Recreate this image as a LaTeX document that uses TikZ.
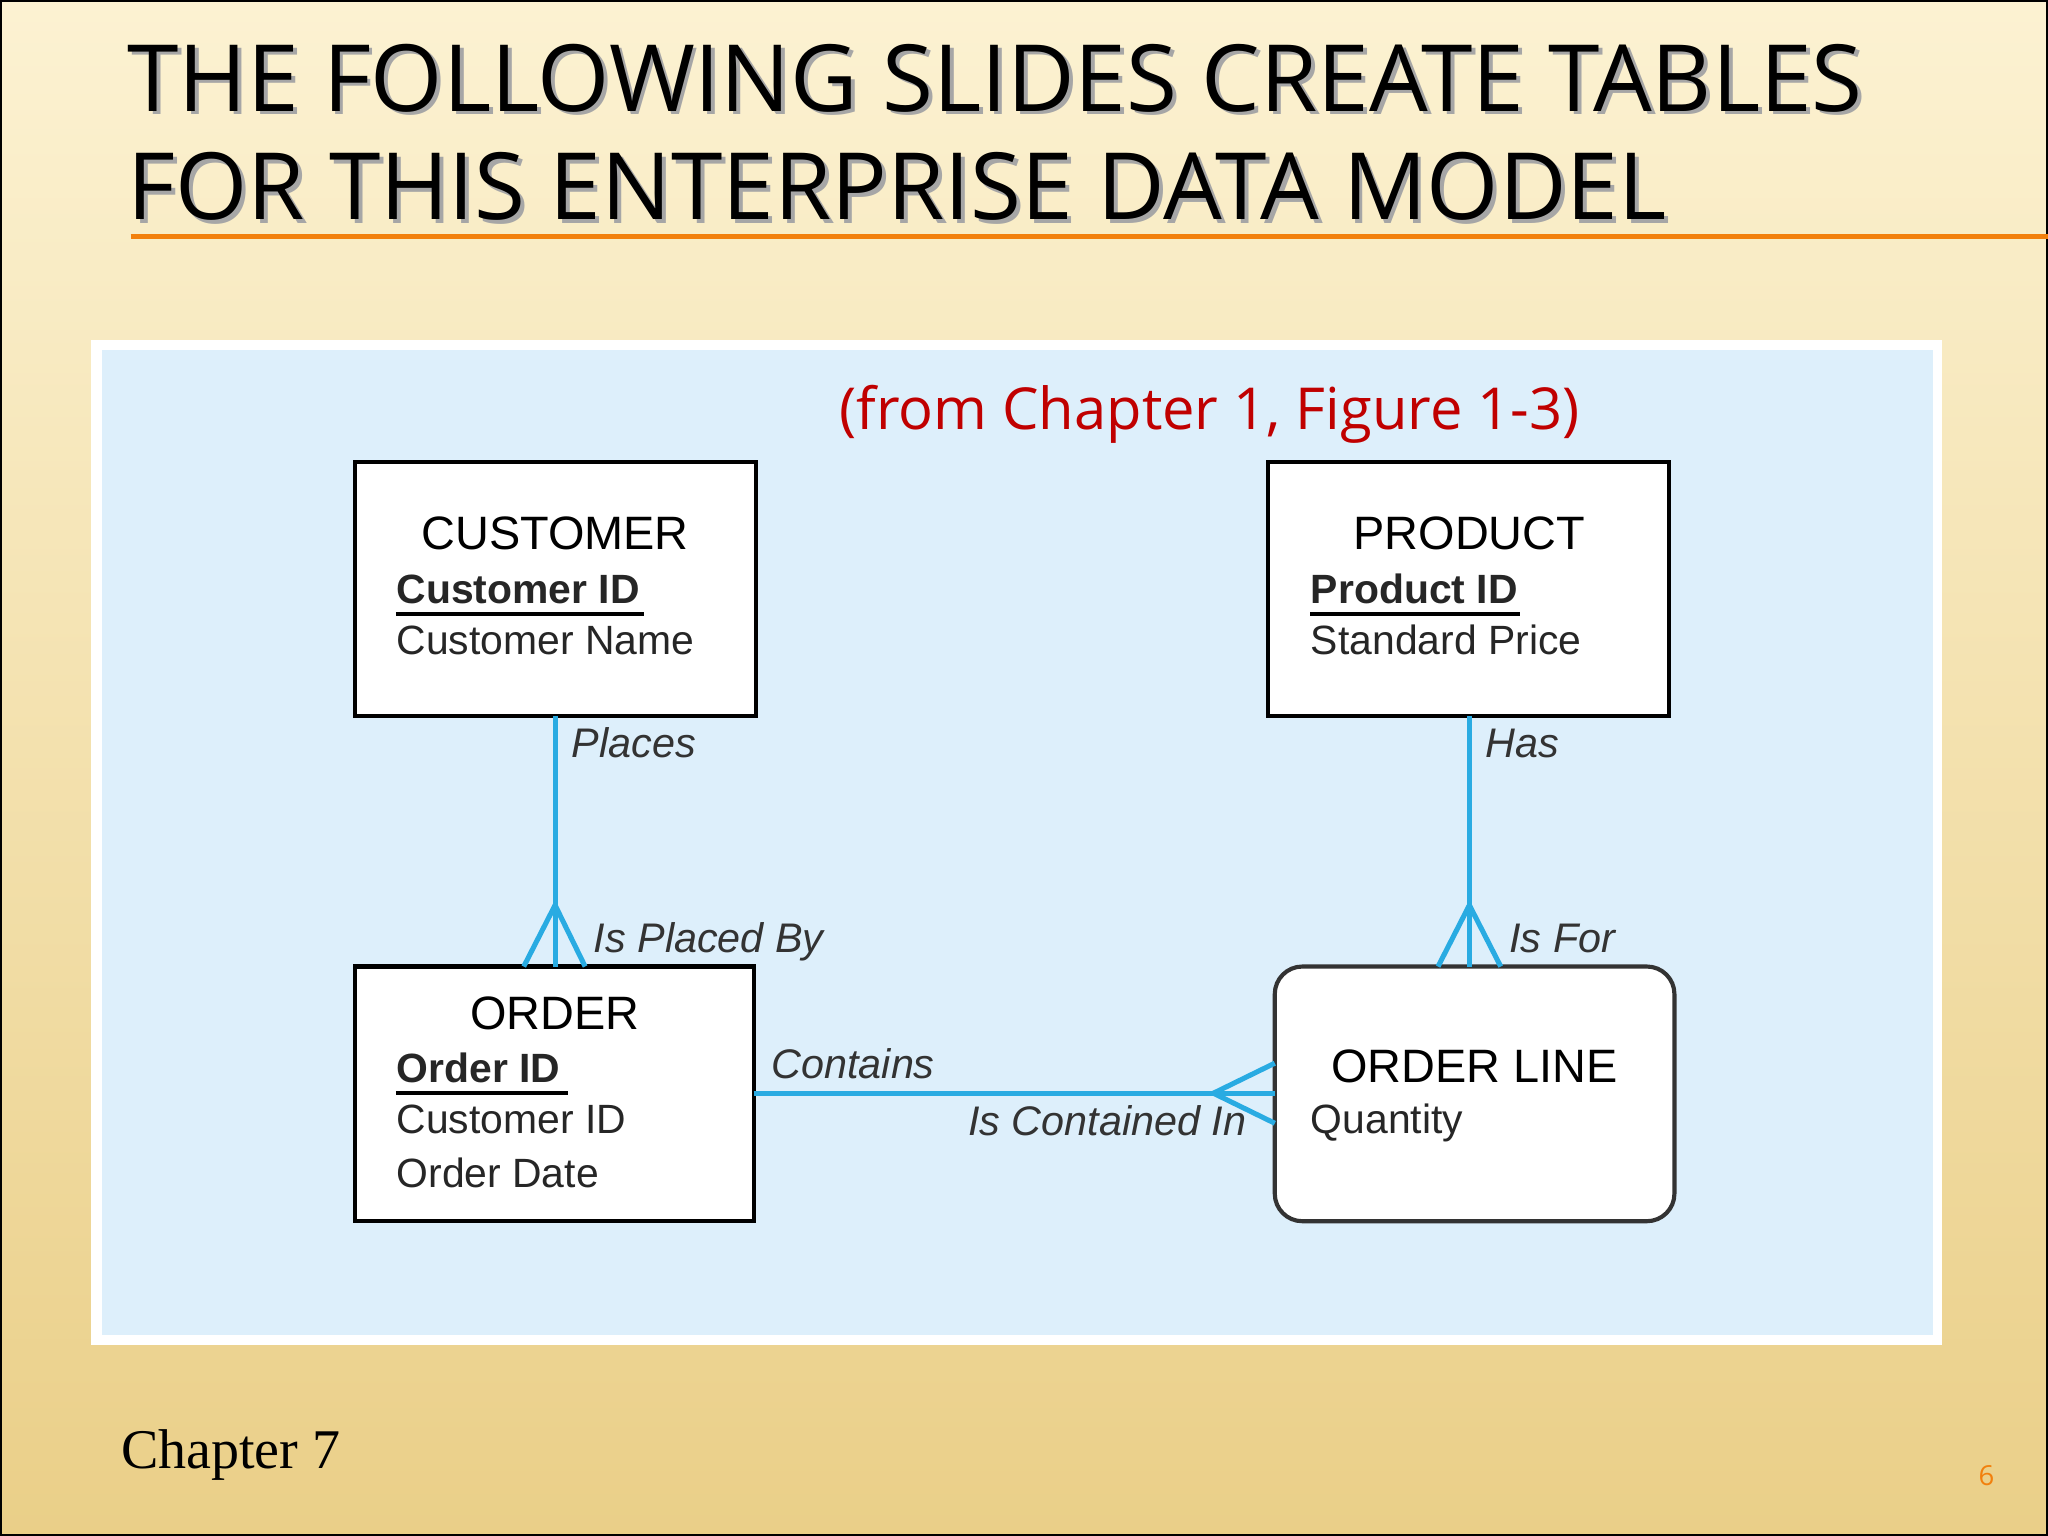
\documentclass[tikz,border=0pt]{standalone}
\usepackage{fontspec}
\setmainfont{Liberation Sans}
\newfontfamily\titlefont{Open Sans}
\newfontfamily\seriffont{Liberation Serif}
\definecolor{cyanline}{HTML}{29ABE2}
\definecolor{panelblue}{HTML}{DDEFFB}
\definecolor{capred}{HTML}{C00000}
\definecolor{bgtop}{HTML}{FCF2D2}
\definecolor{bgbot}{HTML}{EACF88}
\begin{document}
\begin{tikzpicture}[x=0.01cm,y=-0.01cm,
  ent/.style={draw=black,line width=0.9pt,fill=white},
  rel/.style={draw=cyanline,line width=1.1pt},
  lbl/.style={font=\fontsize{9}{11}\selectfont\itshape,text=black!80,anchor=base west,inner sep=0},
  etitle/.style={font=\fontsize{10.2}{12}\selectfont,anchor=base,inner sep=0},
  attr/.style={font=\fontsize{8.9}{11}\selectfont,anchor=base west,inner sep=0,text=black!85},
  battr/.style={attr,font=\fontsize{8.9}{11}\selectfont\bfseries},
  ttl/.style={font=\titlefont\fontsize{20.2}{24}\selectfont,anchor=base west,inner sep=0}]
\useasboundingbox (0,0) rectangle (1568,1176);
\shade[top color=bgtop,bottom color=bgbot] (0,0) rectangle (1568,1176);
\draw[black,line width=0.8pt] (0.5,0.5) rectangle (1567.5,1175.5);
% title
\node[ttl,text=black!35] (t1s) at (100,88) {THE FOLLOWING SLIDES CREATE TABLES};
\node[ttl,text=black!35] (t2s) at (100,171) {FOR THIS ENTERPRISE DATA MODEL};
\node[ttl] (t1) at (97,85) {THE FOLLOWING SLIDES CREATE TABLES};
\node[ttl] (t2) at (97,168) {FOR THIS ENTERPRISE DATA MODEL};
\draw[color=orange!80!brown,line width=1.2pt] (100,181) -- (1568,181);
% panel
\fill[white] (70,260) rectangle (1487,1030);
\fill[panelblue] (78,268) rectangle (1480,1022);
\node[font=\titlefont\fontsize{12.6}{15}\selectfont,text=capred,anchor=base,inner sep=0] (cap) at (926,329) {(from Chapter 1, Figure 1-3)};
% entities
\path[ent] (272,354) rectangle (579,548);
\coordinate (cust) at (425,548);
\node[etitle] (custt) at (425,421) {CUSTOMER};
\node[battr] (custid) at (303,462) {Customer ID};
\draw[line width=0.8pt] (303,470) -- (493,470);
\node[attr] (custname) at (303,501) {Customer Name};

\path[ent] (971,354) rectangle (1278,548);
\coordinate (prod) at (1125,548);
\node[etitle] (prodt) at (1125,421) {PRODUCT};
\node[battr] (prodid) at (1003,462) {Product ID};
\draw[line width=0.8pt] (1003,470) -- (1164,470);
\node[attr] (prodp) at (1003,501) {Standard Price};

\path[ent] (272,740) rectangle (577,935);
\coordinate (ordtop) at (425,740);
\coordinate (ordright) at (577,837);
\node[etitle] (ordt) at (425,788) {ORDER};
\node[battr] (ordid) at (303,829) {Order ID};
\draw[line width=0.8pt] (303,837) -- (435,837);
\node[attr] (ordc) at (303,868) {Customer ID};
\node[attr] (ordd) at (303,909) {Order Date};

\path[ent,draw=black!80,rounded corners=6pt] (976,740) rectangle (1282,935);
\coordinate (oltop) at (1125,740);
\coordinate (olleft) at (976,837);
\node[etitle] (olt) at (1129,829) {ORDER LINE};
\node[attr] (olq) at (1003,868) {Quantity};
% relationships
\draw[rel] (cust) -- (ordtop);
\draw[rel] (401,740) -- (425,693) -- (448,740);
\draw[rel] (prod) -- (oltop);
\draw[rel] (1101,740) -- (1125,693) -- (1149,740);
\draw[rel] (ordright) -- (olleft);
\draw[rel] (976,814) -- (929,837) -- (976,860);
\node[lbl] (l1) at (437,580) {Places};
\node[lbl] (l2) at (454,729) {Is Placed By};
\node[lbl] (l3) at (1137,580) {Has};
\node[lbl] (l4) at (1155,729) {Is For};
\node[lbl] (l5) at (590,826) {Contains};
\node[lbl,anchor=base east] (l6) at (955,869) {Is Contained In};
% footer
\node[font=\seriffont\fontsize{12.2}{14}\selectfont,anchor=base west,inner sep=0] (ch) at (92,1124) {Chapter 7};
\node[font=\titlefont\fontsize{6}{8}\selectfont,text=orange!80!brown,anchor=base,inner sep=0] (pg) at (1521,1137) {6};
\end{tikzpicture}
\end{document}
